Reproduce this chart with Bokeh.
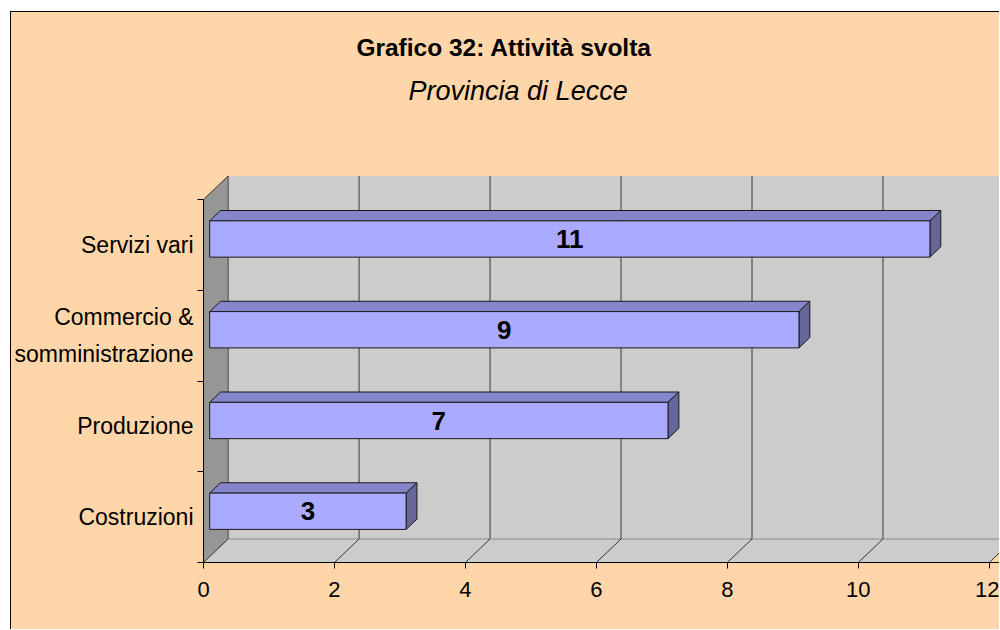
from bokeh.plotting import figure
from bokeh.models import Range1d, FixedTicker
from bokeh.core.properties import value
from bokeh.embed import file_html
from bokeh.resources import INLINE

# ---- data ----
title_text = "Grafico 32: Attività svolta"
subtitle_text = "Provincia di Lecce"
categories = ["Costruzioni", "Produzione", "Commercio &\nsomministrazione", "Servizi vari"]
values = [3, 7, 9, 11]
x_ticks = [0, 2, 4, 6, 8, 10, 12]

# ---- style / geometry ----
FONT = "Liberation Sans"
PEACH = "#FFD6A9"
W, H = 989, 618
ML, MB = 191, 68
UX, UY = 65.56, 90.75            # px per data unit
x_end = (W - ML) / UX
y_end = (H - MB) / UY
DX, DY = 24.7 / UX, 23.5 / UY    # depth of the 3D box
D0, D1 = 0.25, 0.69              # bar depth (fraction)
BAR_H = 0.4
n = len(categories)
xmax = x_ticks[-1]

p = figure(width=W, height=H, x_range=Range1d(0, x_end), y_range=Range1d(0, y_end),
           output_backend="svg", toolbar_location=None,
           min_border_left=ML, min_border_right=0, min_border_top=0, min_border_bottom=MB,
           background_fill_color=PEACH, border_fill_color=PEACH, outline_line_color=None)
p.styles = {"margin-left": "10px", "margin-top": "11px", "background-color": PEACH,
            "border-left": "1px solid #000", "border-top": "1px solid #000"}
p.grid.visible = False

# walls and floor
p.quad(left=DX, right=xmax + DX, bottom=DY, top=n + DY, fill_color="#CCCCCC", line_color=None)
p.patch([0, DX, DX, 0], [0, DY, n + DY, n], fill_color="#969696", line_color=None)
p.patch([0, xmax, xmax + DX, DX], [0, 0, DY, DY], fill_color="#CCCCCC", line_color=None)
p.segment(x0=DX, y0=DY, x1=xmax + DX, y1=DY, line_color="#8A8A8A", line_width=1)
p.segment(x0=[k + DX for k in x_ticks], y0=DY, x1=[k + DX for k in x_ticks], y1=n + DY,
          line_color="#6A6A6A", line_width=1.5)
p.segment(x0=x_ticks, y0=0, x1=[k + DX for k in x_ticks], y1=DY, line_color="#333333", line_width=1)
p.segment(x0=0, y0=n, x1=DX, y1=n + DY, line_color="#333333", line_width=1)

# bars
ddx, ddy = (D1 - D0) * DX, (D1 - D0) * DY
fx0, fx1, fyb, fyt = [], [], [], []
top_xs, top_ys, side_xs, side_ys = [], [], [], []
for i, v in enumerate(values):
    x0 = D0 * DX
    x1 = v + D0 * DX
    yb = i + 0.5 - BAR_H / 2 + D0 * DY
    yt = yb + BAR_H
    fx0.append(x0); fx1.append(x1); fyb.append(yb); fyt.append(yt)
    top_xs.append([x0, x1, x1 + ddx, x0 + ddx])
    top_ys.append([yt, yt, yt + ddy, yt + ddy])
    side_xs.append([x1, x1, x1 + ddx, x1 + ddx])
    side_ys.append([yb, yt, yt + ddy, yb + ddy])

p.patches(top_xs, top_ys, fill_color="#8585CC", line_color="#1A1A1A", line_width=1)
p.patches(side_xs, side_ys, fill_color="#666699", line_color="#1A1A1A", line_width=1)
p.quad(left=fx0, right=fx1, bottom=fyb, top=fyt, fill_color="#AAAAFF", line_color="#1A1A1A", line_width=1)

p.text(x=[(a + b) / 2 for a, b in zip(fx0, fx1)], y=[(a + b) / 2 for a, b in zip(fyb, fyt)],
       text=[str(v) for v in values], text_align="center", text_baseline="middle",
       text_font=value(FONT), text_font_size="26px", text_font_style="bold", text_color="black")

# titles (placed in pixel terms of the reference)
def px2x(px):
    return (px - 202) / UX

def py2y(py):
    return (562 - py) / UY

p.text(x=[px2x(503)], y=[py2y(47)], text=[title_text], text_align="center", text_baseline="middle",
       text_font=value(FONT), text_font_size="24.5px", text_font_style="bold", text_color="black")
p.text(x=[px2x(517)], y=[py2y(90)], text=[subtitle_text], text_align="center", text_baseline="middle",
       text_font=value(FONT), text_font_size="27px", text_font_style="italic", text_color="black")

# axes
xa = p.xaxis[0]
xa.ticker = FixedTicker(ticks=x_ticks)
xa.major_tick_out = 6
xa.major_tick_in = 0
xa.minor_tick_line_color = None
xa.axis_line_color = "black"
xa.major_tick_line_color = "black"
xa.major_label_text_font = FONT
xa.major_label_text_font_size = "22px"
xa.major_label_text_color = "black"
xa.major_label_standoff = 13

ya = p.yaxis[0]
ya.ticker = FixedTicker(ticks=[i + 0.5 for i in range(n)], minor_ticks=list(range(n + 1)))
ya.bounds = (0, n)
ya.axis_line_color = "black"
ya.major_tick_out = 0
ya.major_tick_in = 0
ya.minor_tick_out = 6
ya.minor_tick_in = 0
ya.minor_tick_line_color = "black"
ya.major_label_overrides = {i + 0.5: c for i, c in enumerate(categories)}
ya.major_label_text_font = FONT
ya.major_label_text_font_size = "23px"
ya.major_label_text_color = "black"
ya.major_label_text_align = "center"
ya.major_label_text_line_height = 1.4
ya.major_label_standoff = 4

open("out.html", "w").write(file_html(p, INLINE))
